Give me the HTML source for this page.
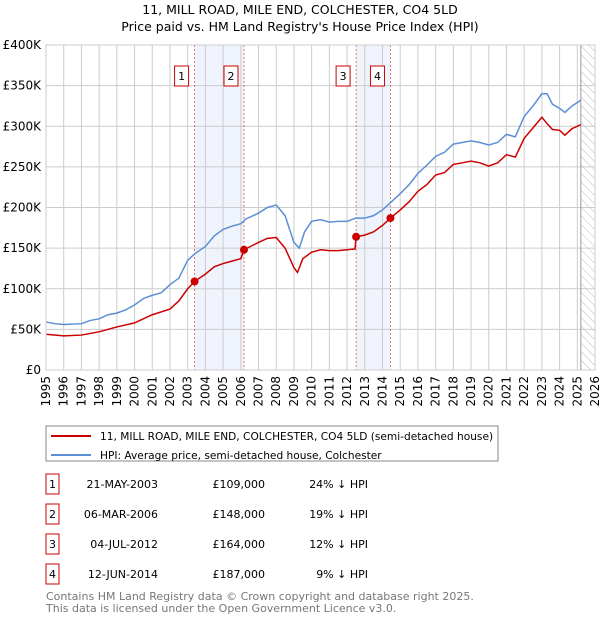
<!DOCTYPE html>
<html><head><meta charset="utf-8"><style>
body{margin:0;background:#fff;font-family:"Liberation Sans","DejaVu Sans",sans-serif;}
svg text{font-family:"DejaVu Sans","Liberation Sans",sans-serif;}
</style></head><body>
<svg width="600" height="620" viewBox="0 0 600 620">
<defs><pattern id="hatch" width="6" height="6" patternUnits="userSpaceOnUse" patternTransform="rotate(-45)"><line x1="0" y1="0" x2="0" y2="6" stroke="#bbb" stroke-width="1"/></pattern></defs>
<text x="300" y="14" text-anchor="middle" font-size="12.5">11, MILL ROAD, MILE END, COLCHESTER, CO4 5LD</text>
<text x="300" y="31" text-anchor="middle" font-size="12.5">Price paid vs. HM Land Registry's House Price Index (HPI)</text>
<g id="plot"></g>
<g>
<rect x="46" y="426" width="452" height="35" fill="#fff" stroke="#888"/>
<line x1="51" y1="436" x2="91" y2="436" stroke="#cc0000" stroke-width="2"/>
<text x="100" y="440" font-size="10.6">11, MILL ROAD, MILE END, COLCHESTER, CO4 5LD (semi-detached house)</text>
<line x1="51" y1="455" x2="91" y2="455" stroke="#5b8fd4" stroke-width="2"/>
<text x="100" y="459" font-size="10.6">HPI: Average price, semi-detached house, Colchester</text>
</g>
<g id="table" font-size="11"></g>
<text x="46" y="600" font-size="11" fill="#777">Contains HM Land Registry data © Crown copyright and database right 2025.</text>
<text x="46" y="612" font-size="11" fill="#777">This data is licensed under the Open Government Licence v3.0.</text>
</svg>
<script>
const hpiYears=[1995,1995.5,1996,1997,1997.5,1998,1998.5,1999,1999.5,2000,2000.5,2001,2001.5,2002,2002.5,2003,2003.4,2004,2004.5,2005,2005.5,2006,2006.3,2007,2007.5,2008,2008.5,2009,2009.3,2009.6,2010,2010.5,2011,2011.5,2012,2012.5,2013,2013.5,2014,2014.5,2015,2015.5,2016,2016.5,2017,2017.5,2018,2018.5,2019,2019.5,2020,2020.5,2021,2021.5,2022,2022.5,2023,2023.3,2023.6,2024,2024.3,2024.7,2025.2];
const hpiValues=[59,57,56,57,61,63,68,70,74,80,88,92,95,105,113,135,143,152,165,173,177,180,186,193,200,203,190,157,150,170,183,185,182,183,183,187,187,190,197,207,217,228,242,252,263,268,278,280,282,280,277,280,290,287,312,325,340,340,327,322,317,325,332];
const priceYears=[1995,1996,1997,1998,1999,2000,2001,2002,2002.5,2003,2003.39,2004,2004.5,2005,2005.5,2006,2006.18,2007,2007.5,2008,2008.5,2009,2009.2,2009.5,2010,2010.5,2011,2011.5,2012,2012.45,2012.51,2013,2013.5,2014,2014.45,2015,2015.5,2016,2016.5,2017,2017.5,2018,2018.5,2019,2019.5,2020,2020.5,2021,2021.5,2022,2022.5,2023,2023.3,2023.6,2024,2024.3,2024.7,2025.2];
const priceValues=[44,42,43,47,53,58,68,75,85,100,109,118,127,131,134,137,148,157,162,163,150,126,120,137,145,148,147,147,148,149,164,166,170,178,187,197,207,220,228,240,243,253,255,257,255,251,255,265,262,285,298,311,303,296,295,289,297,302];
const saleLabels=["1","2","3","4"];
const saleYears=[2003.39,2006.18,2012.51,2014.45];
const saleValues=[109,148,164,187];
const saleDates=["21-MAY-2003","06-MAR-2006","04-JUL-2012","12-JUN-2014"];
const salePrices=["£109,000","£148,000","£164,000","£187,000"];
const saleDiffs=["24% ↓ HPI","19% ↓ HPI","12% ↓ HPI","9% ↓ HPI"];
const yTicks=[0,50,100,150,200,250,300,350,400];
const yTickLabels=["£0","£50K","£100K","£150K","£200K","£250K","£300K","£350K","£400K"];
const xTicks=[1995,1996,1997,1998,1999,2000,2001,2002,2003,2004,2005,2006,2007,2008,2009,2010,2011,2012,2013,2014,2015,2016,2017,2018,2019,2020,2021,2022,2023,2024,2025,2026];
const X0=46,X1=595,Y0=370,Y1=45;
const xs=y=>X0+(y-1995)/(2026-1995)*(X1-X0);
const ys=v=>Y0-v/400*(Y0-Y1);
const NS="http://www.w3.org/2000/svg";
const plot=document.getElementById('plot');
function mk(tag,attrs,parent){const e=document.createElementNS(NS,tag);for(const k in attrs)e.setAttribute(k,attrs[k]);(parent||plot).appendChild(e);return e;}
for(const [a,b] of [[0,1],[2,3]]){const r=mk('rect',{x:xs(saleYears[a]),y:Y1,width:xs(saleYears[b])-xs(saleYears[a]),height:Y0-Y1,fill:'#eef3fc'});

}
const hx=xs(2025.2);
const h=mk('rect',{x:hx,y:Y1,width:X1-hx,height:Y0-Y1,fill:'url(#hatch)'});


xTicks.forEach(t=>{const l=mk('line',{x1:xs(t),x2:xs(t),y1:Y1,y2:Y0,stroke:'#ccc'});


const tx=mk('text',{x:0,y:0,'font-size':12,'text-anchor':'end',transform:`translate(${xs(t)+4},${Y0+6}) rotate(-90)`});tx.textContent=t;

});
yTicks.forEach((t,i)=>{const l=mk('line',{x1:X0,x2:X1,y1:ys(t),y2:ys(t),stroke:'#ccc'});


const tx=mk('text',{x:X0-5,y:ys(t)+4,'font-size':12,'text-anchor':'end'});tx.textContent=yTickLabels[i];

});
mk('line',{x1:hx,x2:hx,y1:Y1,y2:Y0,stroke:'#999'});
saleYears.forEach(y=>{const l=mk('line',{x1:xs(y),x2:xs(y),y1:Y1,y2:Y0,stroke:'#e05050','stroke-dasharray':'2,2','stroke-width':0.8});

});
const hp=mk('polyline',{points:hpiYears.map((y,i)=>xs(y)+','+ys(hpiValues[i])).join(' '),fill:'none',stroke:'#5b8fd4','stroke-width':1.5});


const pp=mk('polyline',{points:priceYears.map((y,i)=>xs(y)+','+ys(priceValues[i])).join(' '),fill:'none',stroke:'#cc0000','stroke-width':1.5});


mk('rect',{x:X0,y:Y1,width:X1-X0,height:Y0-Y1,fill:'none',stroke:'#ccc'});
saleYears.forEach((y,i)=>{const c=mk('circle',{cx:xs(y),cy:ys(saleValues[i]),r:4,fill:'#cc0000'});


const b=mk('rect',{x:xs(y)-20,y:66,width:14,height:20,fill:'#fff',stroke:'#cc0000'});


const t=mk('text',{x:xs(y)-13,y:80,'font-size':11,'text-anchor':'middle'});t.textContent=saleLabels[i];

});
const tb=document.getElementById('table');
saleLabels.forEach((s,i)=>{const yy=484+i*30;
const b=mk('rect',{x:46,y:yy-10,width:13,height:20,fill:'#fff',stroke:'#cc0000'},tb);


const cols=[[52.5,s,'middle'],[158,saleDates[i],'end'],[265,salePrices[i],'end'],[368,saleDiffs[i],'end']];
cols.forEach(c=>{const t=mk('text',{x:c[0],y:yy+4,'text-anchor':c[2]},tb);t.textContent=c[1];

});});
</script>
</body></html>
